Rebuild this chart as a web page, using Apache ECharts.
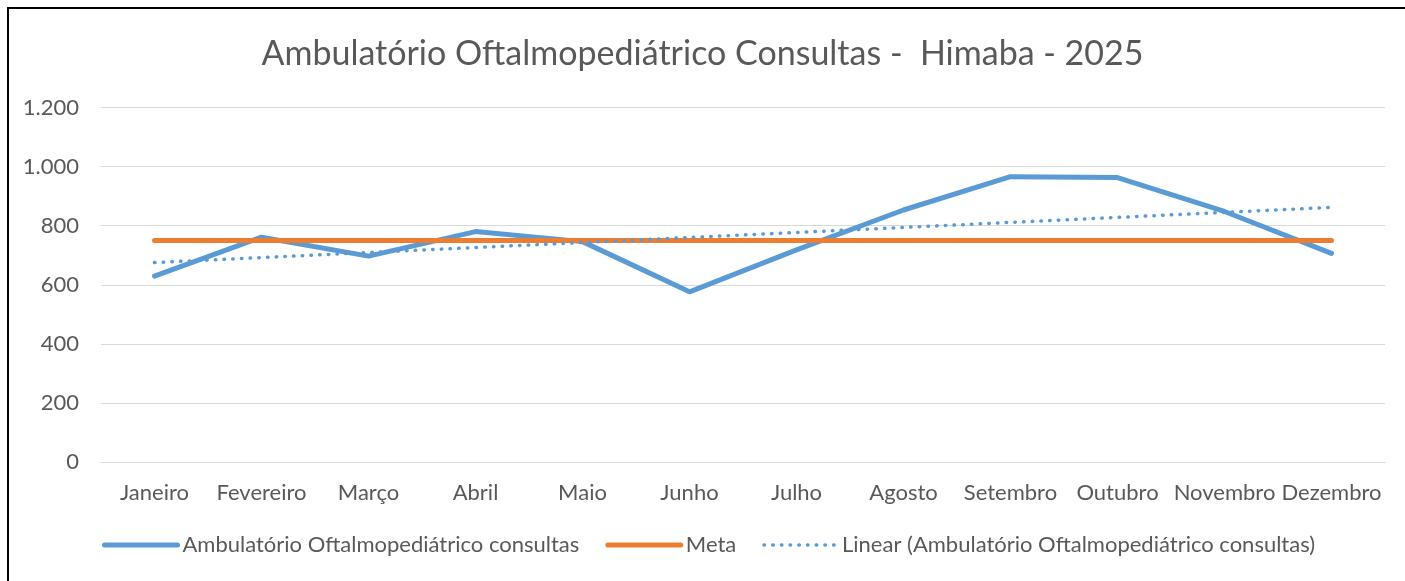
<!DOCTYPE html>
<html>
<head>
<meta charset="utf-8">
<script src="https://cdn.jsdelivr.net/npm/echarts@6/dist/echarts.min.js"></script>
<style>
  html, body { margin: 0; padding: 0; background: #fff; overflow: hidden; }
  #main { width: 1405px; height: 581px; }
  #frame { position: absolute; left: 7px; top: 7px; width: 2000px; height: 2000px;
           border-left: 2px solid #000; border-top: 2px solid #000; pointer-events: none; }
</style>
</head>
<body>
<div id="main"></div>
<div id="frame"></div>
<script>
// meses
var meses = ['Janeiro', 'Fevereiro', 'Março', 'Abril', 'Maio', 'Junho', 'Julho',
             'Agosto', 'Setembro', 'Outubro', 'Novembro', 'Dezembro'];
// consultas realizadas
var consultas = [629, 761, 697, 780, 746, 576, 718, 853, 966, 963, 848, 706];
// meta mensal
var meta = [750, 750, 750, 750, 750, 750, 750, 750, 750, 750, 750, 750];
// linha de tendência: só as pontas
var tendencia = [675, null, null, null, null, null, null, null, null, null, null, 862];

var fonte = 'Lato';
var cinza = '#595959';

var myChart = echarts.init(document.getElementById('main'));
var option = {
    animation: false,
    textStyle: { fontFamily: fonte },
    title: {
        text: 'Ambulatório Oftalmopediátrico Consultas -  Himaba - 2025',
        left: 'center',
        top: 32,
        textStyle: { fontFamily: fonte, fontSize: 34, fontWeight: 'normal', color: cinza }
    },
    grid: { left: 101, right: 20, top: 107.5, bottom: 119 },
    legend: {
        bottom: 20,
        left: 97,
        itemWidth: 73,
        itemHeight: 14,
        itemGap: 26,
        itemStyle: { opacity: 0 },
        lineStyle: { width: 5 },
        textStyle: { fontFamily: fonte, fontSize: 22, color: cinza },
        data: [
            { name: 'Ambulatório Oftalmopediátrico consultas' },
            { name: 'Meta' },
            { name: 'Linear (Ambulatório Oftalmopediátrico consultas)', lineStyle: { width: 3.5 } }
        ]
    },
    xAxis: {
        type: 'category',
        data: meses,
        axisTick: { show: false },
        axisLine: { lineStyle: { color: '#d9d9d9', width: 1 } },
        axisLabel: { fontSize: 22, color: cinza, margin: 20, interval: 0 }
    },
    yAxis: {
        type: 'value',
        min: 0,
        max: 1200,
        interval: 200,
        axisLine: { show: false },
        axisTick: { show: false },
        splitLine: { lineStyle: { color: '#d9d9d9', width: 1 } },
        axisLabel: {
            fontSize: 22, color: cinza, margin: 22,
            formatter: function(v){
                return String(v).replace(/\B(?=(\d{3})+(?!\d))/g, '.');
            }
        }
    },
    series: [
        {
            name: 'Ambulatório Oftalmopediátrico consultas',
            type: 'line',
            data: consultas,
            symbol: 'none',
            color: '#5b9bd5',
            lineStyle: { width: 5, color: '#5b9bd5', cap: 'round', join: 'round' },
            z: 2
        },
        {
            name: 'Meta',
            type: 'line',
            data: meta,
            symbol: 'none',
            color: '#ed7d31',
            lineStyle: { width: 5, color: '#ed7d31', cap: 'round' },
            z: 3
        },
        {
            name: 'Linear (Ambulatório Oftalmopediátrico consultas)',
            type: 'line',
            data: tendencia,
            connectNulls: true,
            symbol: 'none',
            color: '#5b9bd5',
            lineStyle: { width: 3.5, color: '#5b9bd5', type: [0.5, 8.2], cap: 'round' },
            z: 4
        }
    ]
};
myChart.setOption(option);
</script>
</body>
</html>
